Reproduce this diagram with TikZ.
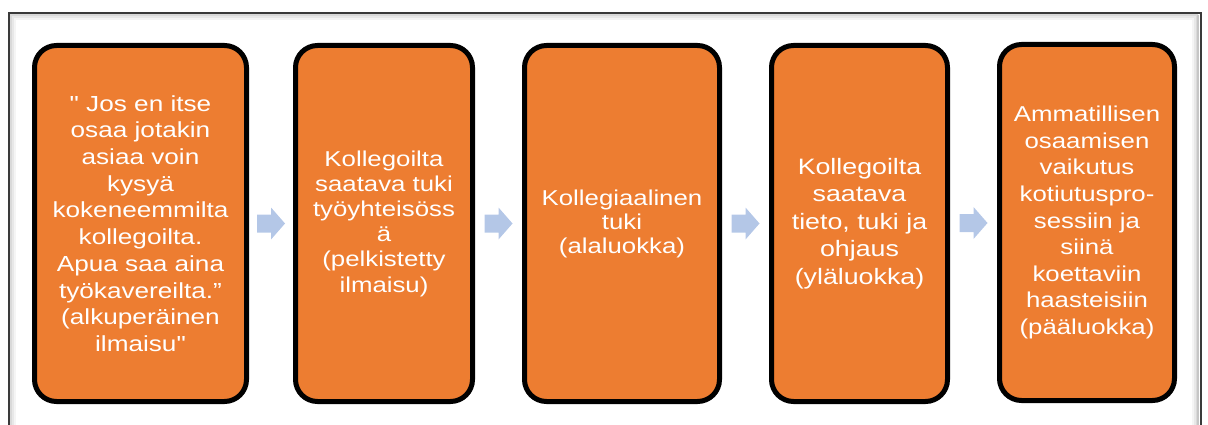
\documentclass[tikz,border=0pt]{standalone}
\usepackage{fontspec}
\setmainfont{Liberation Sans}[FakeStretch=1.2, Ligatures=TeXOff]
\usetikzlibrary{calc}
\definecolor{boxorange}{HTML}{ED7D31}
\definecolor{arrowblue}{HTML}{B4C7E7}
\definecolor{framedark}{HTML}{3A3A3A}
\tikzset{
  stagebox/.style={draw=black, line width=5pt, fill=boxorange, rounded corners=22pt,
    minimum height=356pt, inner sep=0pt, text=white, align=center,
    font=\fontsize{21.5}{24.5}\selectfont},
  blockarrow/.style={fill=arrowblue, draw=none},
}
\begin{document}
\begin{tikzpicture}[x=1pt,y=1pt]
\useasboundingbox (0,0) rectangle (1208,424);
% frame with inner shadow
\draw[gray!8, line width=2pt] (15,405) rectangle (1193,-10);
\draw[gray!18, line width=2pt] (13,407) rectangle (1195,-8);
\draw[gray!30, line width=2pt] (11,409) rectangle (1197,-6);
\draw[gray!45, line width=1.5pt] (1198,409) -- (1198,-6);
\draw[framedark, line width=2pt] (9,411) rectangle (1201,-4);
% boxes
\node[stagebox, minimum width=212pt, font=\fontsize{21.8}{26.7}\selectfont] (b1) at (140.5,200.5)
  {" Jos en itse\\osaa jotakin\\asiaa voin\\kysyä\\kokeneemmilta\\kollegoilta.\\Apua saa aina\\työkavereilta.”\\(alkuperäinen\\ilmaisu"};
\node[stagebox, minimum width=177pt, font=\fontsize{21.5}{25.2}\selectfont] (b2) at (384,200.5)
  {Kollegoilta\\saatava tuki\\työyhteisöss\\ä\\(pelkistetty\\ilmaisu)};
\node[stagebox, minimum width=195pt, font=\fontsize{21.5}{24}\selectfont] (b3) at (622,200.5)
  {Kollegiaalinen\\tuki\\(alaluokka)};
\node[stagebox, minimum width=176pt, font=\fontsize{22.3}{27.5}\selectfont] (b4) at (859.5,200.5)
  {Kollegoilta\\saatava\\tieto, tuki ja\\ohjaus\\(yläluokka)};
\node[stagebox, minimum width=175pt, font=\fontsize{21.5}{26.6}\selectfont] (b5) at (1087,201.5)
  {Ammatillisen\\osaamisen\\vaikutus\\kotiutuspro-\\sessiin ja\\siinä\\koettaviin\\haasteisiin\\(pääluokka)};
% arrows
\foreach \a/\b [count=\i] in {b1/b2,b2/b3,b3/b4,b4/b5}{
  \coordinate (m\i) at ($(\a.east)!0.5!(\b.west)$);
  \fill[blockarrow] ($(m\i)+(-14,-9)$) -- ++(14,0) -- ++(0,-7) -- ++(14,16) -- ++(-14,16) -- ++(0,-7) -- ++(-14,0) -- cycle;
}
\end{tikzpicture}
\end{document}
